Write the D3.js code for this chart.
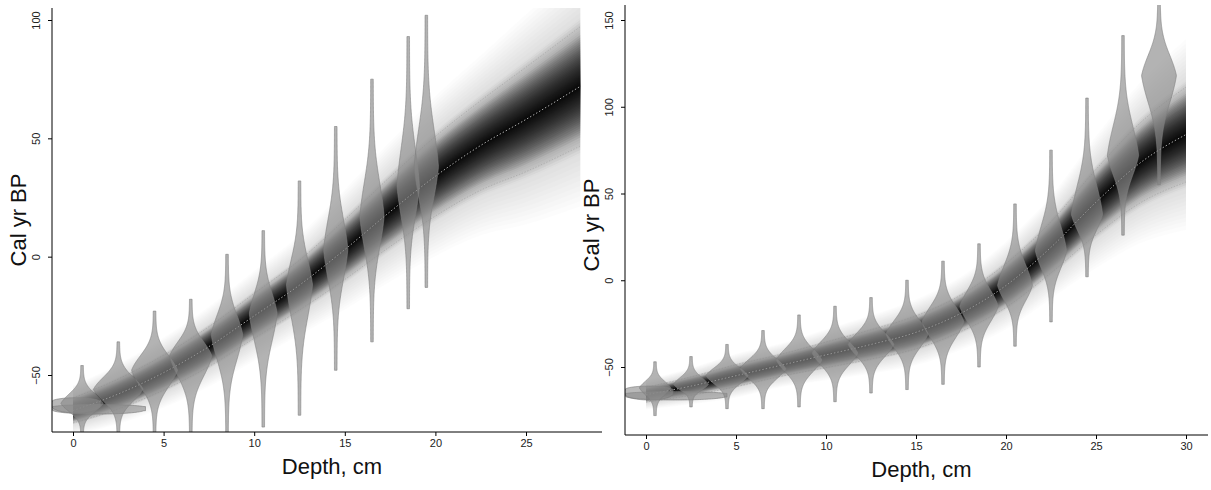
<!DOCTYPE html><html><head><meta charset="utf-8">
<script src="https://cdn.jsdelivr.net/npm/d3@7"></script>
<style>body{margin:0;background:#fff}svg{font-family:"Liberation Sans",Arial,sans-serif}</style></head><body>
<svg id="c" width="1211" height="490"></svg>
<script>
// Left panel data
const leftDepth = [0, 2.5, 5, 7.5, 10, 12.5, 15, 17.5, 20, 22.5, 25, 28];
const leftMean  = [-65, -58, -49, -38, -25, -12, 3, 19, 34, 47, 58, 72];
const leftSd    = [2.5, 3, 3.5, 4, 4.5, 5, 6, 7, 8, 9, 10.5, 12];
const leftViolinDepth = [0.5, 2.5, 4.5, 6.5, 8.5, 10.5, 12.5, 14.5, 16.5, 18.5, 19.5];
const leftViolinTop   = [-46, -36, -23, -18, 1, 11, 32, 55, 75, 93, 102];
const leftViolinBot   = [-76, -76, -76, -76, -76, -72, -67, -48, -36, -22, -13];
const leftViolinPeak  = [-62, -56, -48, -42, -33, -24, -12, 3, 17, 30, 38];
const leftViolinHW    = [1.1, 1.3, 1.2, 1.1, 0.8, 0.7, 0.65, 0.6, 0.6, 0.55, 0.6];
const leftXTicks = [0, 5, 10, 15, 20, 25];
const leftYTicks = [-50, 0, 50, 100];

// Right panel data
const rightDepth = [0, 2.5, 5, 7.5, 10, 12.5, 15, 17.5, 20, 22.5, 25, 27.5, 30];
const rightMean  = [-66, -61, -55, -49, -43, -37, -30, -19, -3, 19, 45, 68, 84];
const rightSd    = [2, 2.5, 3, 3, 3.5, 4, 4.5, 5, 6, 7, 9, 11, 13];
const rightViolinDepth = [0.5, 2.5, 4.5, 6.5, 8.5, 10.5, 12.5, 14.5, 16.5, 18.5, 20.5, 22.5, 24.5, 26.5, 28.5];
const rightViolinTop   = [-47, -44, -37, -29, -20, -15, -10, 0, 11, 21, 44, 75, 105, 141, 165];
const rightViolinBot   = [-78, -73, -74, -74, -73, -70, -65, -63, -60, -50, -38, -24, 2, 26, 55];
const rightViolinPeak  = [-62, -60, -55, -51, -46, -42, -37, -31, -24, -15, -3, 17, 38, 72, 118];
const rightViolinHW    = [0.8, 0.9, 1.1, 1.2, 1.2, 1.2, 1.2, 1.1, 1.1, 1.0, 0.9, 0.8, 0.8, 0.8, 0.9];
const rightXTicks = [0, 5, 10, 15, 20, 25, 30];
const rightYTicks = [-50, 0, 50, 100, 150];

const svg = d3.select("#c");

function panel(cfg, id){
  const xa = d3.scaleLinear().domain(cfg.xd).range(cfg.xr);
  const ya = d3.scaleLinear().domain(cfg.yd).range(cfg.yr);
  const x = d3.scaleLinear().domain([xa.invert(cfg.px[0]), xa.invert(cfg.px[1])]).range(cfg.px);
  const y = d3.scaleLinear().domain([ya.invert(cfg.py[0]), ya.invert(cfg.py[1])]).range(cfg.py);
  const g = svg.append("g");
  g.append("clipPath").attr("id", id).append("rect")
    .attr("x", cfg.px[0]).attr("y", cfg.py[1]).attr("width", cfg.px[1]-cfg.px[0]).attr("height", cfg.py[0]-cfg.py[1]);
  const p = g.append("g").attr("clip-path", `url(#${id})`);
  const pts = cfg.depth.map((d,i)=>({d, m:cfg.mean[i], s:cfg.sd[i]}));
  // faint outer halo
  for(let k=12;k>=1;k--){
    const z = 2.3 + k/12*2.4;
    p.append("path").datum(pts).attr("d", d3.area().curve(d3.curveMonotoneX).x(p=>x(p.d)).y0(p=>y(p.m - z*p.s*0.9)).y1(p=>y(p.m + z*p.s*0.9)))
      .attr("fill","#000").attr("fill-opacity",0.012);
  }
  const N = 40;
  for(let k=N;k>=1;k--){
    const z = Math.pow(k/N,1.6)*2.6;
    const area = d3.area().curve(d3.curveMonotoneX).x(p=>x(p.d)).y0(p=>y(p.m - z*p.s*0.9)).y1(p=>y(p.m + z*p.s*0.9));
    p.append("path").datum(pts).attr("d", area).attr("fill", "#000").attr("fill-opacity", k>N*0.85?0.03:0.075);
  }
  [-2.1, 2.1].forEach(z=>{
    p.append("path").datum(pts).attr("fill","none").attr("stroke","#aaa").attr("stroke-width",0.8).attr("stroke-dasharray","1.5,1.5")
      .attr("d", d3.line().curve(d3.curveMonotoneX).x(p=>x(p.d)).y(p=>y(p.m+z*p.s)));
  });
  p.append("path").datum(pts).attr("fill","none").attr("stroke","#bbb").attr("stroke-width",0.9).attr("stroke-dasharray","1.5,2")
    .attr("d", d3.line().curve(d3.curveMonotoneX).x(p=>x(p.d)).y(p=>y(p.m)));
  cfg.hz.forEach(h=>{
    const xs = d3.range(h[0], h[1]+0.001, (h[1]-h[0])/60);
    const shape = xs.map(v=>{const t=(v-h[0])/(h[1]-h[0]); return [v, h[3]*Math.pow(Math.sin(Math.PI*Math.min(0.98,t)),0.3)];});
    p.append("path").datum(shape).attr("fill","#8a8a8a").attr("fill-opacity",0.6).attr("stroke","#777").attr("stroke-width",0.6)
      .attr("d", d3.area().x(s=>x(s[0])).y0(s=>y(h[2]-s[1])).y1(s=>y(h[2]+s[1]*0.6)));
  });
  cfg.vd.forEach((d,i)=>{
    const top=cfg.vt[i], bot=cfg.vb[i], pk=cfg.vp[i], hw=cfg.vw[i];
    const su=(top-pk)/3.6, sl=(pk-bot)/3.6;
    const ages = d3.range(bot, top+0.01, (top-bot)/200);
    const shape = ages.map(a=>{const s=a>pk?su:sl; const u=Math.abs(a-pk)/s; return [a, hw*(0.8*Math.exp(-u*u/2)+0.2*Math.exp(-u*1.5))+0.07];});
    p.append("path").datum(shape).attr("fill","#8a8a8a").attr("fill-opacity",0.65).attr("stroke","#808080").attr("stroke-width",0.6)
      .attr("d", d3.area().curve(d3.curveBasis).y(s=>y(s[0])).x0(s=>x(d - s[1])).x1(s=>x(d + s[1])));
  });
  const ax = g.append("g").attr("transform",`translate(0,${cfg.py[0]})`).call(d3.axisBottom(x).tickValues(cfg.xt).tickSize(4).tickSizeOuter(0));
  ax.select(".domain").attr("d",`M${cfg.px[0]},0H${cfg.px[1]}`);
  ax.selectAll("text").attr("font-size",11).attr("fill","#222").attr("font-family","Liberation Sans");
  const ay = g.append("g").attr("transform",`translate(${cfg.px[0]},0)`).call(d3.axisLeft(y).tickValues(cfg.yt).tickSize(4).tickSizeOuter(0));
  ay.select(".domain").attr("d",`M0,${cfg.py[0]}V${cfg.py[1]}`);
  ay.selectAll("text").attr("font-size",11).attr("fill","#222").attr("font-family","Liberation Sans")
    .attr("transform","rotate(-90)").attr("x",0).attr("y",-12).attr("dy","0").attr("text-anchor","middle");
  g.append("text").attr("x",(cfg.px[0]+cfg.px[1])/2+5).attr("y",cfg.py[0]+42).attr("text-anchor","middle").attr("font-size",22).attr("fill","#111").text("Depth, cm");
  g.append("text").attr("transform",`translate(${cfg.px[0]-26},${cfg.ylab}) rotate(-90)`).attr("text-anchor","middle").attr("font-size",22).attr("fill","#111").text("Cal yr BP");
}

panel({xd:[0,25], xr:[73,526], yd:[-50,100], yr:[375,20], px:[52,602], py:[432,8], depth:leftDepth, mean:leftMean, sd:leftSd,
  vd:leftViolinDepth, vt:leftViolinTop, vb:leftViolinBot, vp:leftViolinPeak, vw:leftViolinHW, xt:leftXTicks, yt:leftYTicks,
  hz:[[-1.2,4,-64,2.5],[-1.2,1.5,-62,4]], ylab:220}, "cl");
panel({xd:[0,30], xr:[646,1186], yd:[-50,150], yr:[367,20], px:[625,1208], py:[435,5], depth:rightDepth, mean:rightMean, sd:rightSd,
  vd:rightViolinDepth, vt:rightViolinTop, vb:rightViolinBot, vp:rightViolinPeak, vw:rightViolinHW, xt:rightXTicks, yt:rightYTicks,
  hz:[[-1.2,4.5,-66,3],[-1.2,1.5,-64,5]], ylab:225}, "cr");
</script>
</body></html>
